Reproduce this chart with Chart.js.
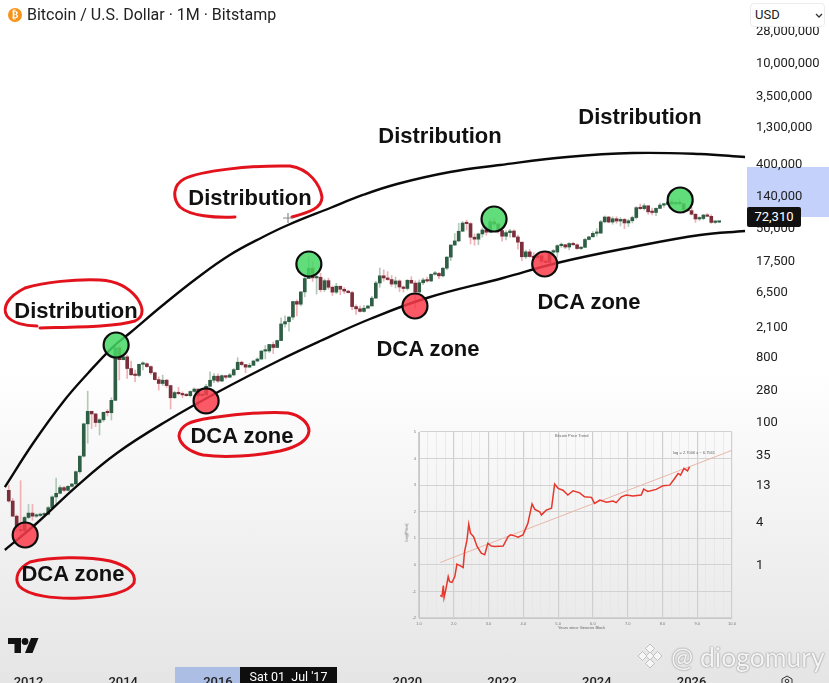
<!DOCTYPE html>
<html><head><meta charset="utf-8"><title>BTC</title>
<script src="https://cdn.jsdelivr.net/npm/chart.js@4/dist/chart.umd.min.js"></script>
<style>
html,body{margin:0;padding:0;width:829px;height:683px;overflow:hidden}
body{position:relative;background:linear-gradient(#fff 0,#fff 54%,#e5e5e5 100%);font-family:Roboto,sans-serif;color:#1c1c1c}
.abs{position:absolute}
#mainWrap{position:absolute;left:0;top:0;width:829px;height:700px}
#insetWrap{position:absolute;left:405px;top:425px;width:340px;height:207px;filter:blur(.6px)}
.note{position:absolute;transform:translate(-50%,-50%);font:bold 22px "Liberation Sans",sans-serif;color:#111;white-space:nowrap}
.tiny{position:absolute;font:4px "Liberation Sans",sans-serif;color:#666;white-space:nowrap;filter:blur(.3px)}
</style></head><body>
<div class="abs" style="left:747px;top:167px;width:82px;height:50px;background:#c3d1fb"></div>
<div class="abs" style="left:175px;top:667px;width:65px;height:16px;background:#adbee5"></div>
<div id="mainWrap"><canvas id="main" width="829" height="700"></canvas></div>
<div id="insetWrap"><canvas id="inset" width="340" height="207"></canvas></div>
<div class="tiny" style="left:555px;top:433px">Bitcoin Price Trend</div>
<div class="tiny" style="left:673px;top:450px">log = 2.7006 x − 6.7561</div>
<div class="tiny" style="left:558px;top:625px">Years since Genesis Block</div>
<div class="tiny" style="left:397px;top:530px;transform:rotate(-90deg)">Log(Price)</div>

<svg class="abs" style="left:0;top:0" width="829" height="683" fill="none">
 <g stroke="#e2131c" stroke-width="3" stroke-linecap="round">
  <path d="M37,326 C25,326 12,323 7,316 C2,308 7,297 25,288 C45,282 75,279 100,280 C118,281 130,289 137,298 C144,308 144,317 135,321 C115,327 75,327 40,328"/>
  <path d="M235,217 C215,218 190,216 180,207 C172,198 173,185 184,179 C200,171 250,165 290,166 C310,169 320,185 322,197 C322,208 310,212 292,217"/>
  <path d="M203,455 C190,452 180,445 179,436 C180,425 190,421 210,418 C240,414 270,411 288,413 C300,415 309,423 309,431 C308,441 297,447 280,451 C255,456 225,458 203,455"/>
  <path d="M30,562 C18,568 14,578 19,586 C28,596 55,599 80,598 C105,597 128,593 134,583 C137,572 125,565 110,561 C85,556 50,557 30,562"/>
 </g>
 <path d="M283,218h10M288,213v10" stroke="#8a8a8a" stroke-width="1.2"/>
 <g fill="#111"><path d="M8,638h13v15h-6.5v-9H8z"/><circle cx="25" cy="641.5" r="3.4"/><path d="M38.5,638l-6,15h-7.5l6,-15z"/></g>
 <g fill="#f6f6f6" stroke="#b5b5b5" stroke-width=".8">
  <path d="M650,644l4.5,4.5l-4.5,4.5l-4.5,-4.5z"/>
  <path d="M650,659l4.5,4.5l-4.5,4.5l-4.5,-4.5z"/>
  <path d="M642.5,651.5l4.5,4.5l-4.5,4.5l-4.5,-4.5z"/>
  <path d="M657.5,651.5l4.5,4.5l-4.5,4.5l-4.5,-4.5z"/>
  <path d="M650,652l4,4l-4,4l-4,-4z"/>
 </g>
 <path d="M782,679l5,-3l5,3v6h-10z" stroke="#333" stroke-width="1"/><circle cx="787" cy="681" r="1.8" stroke="#333"/>
</svg>

<div class="note" style="left:440px;top:136px">Distribution</div>
<div class="note" style="left:640px;top:117px">Distribution</div>
<div class="note" style="left:250px;top:198px">Distribution</div>
<div class="note" style="left:76px;top:311px">Distribution</div>
<div class="note" style="left:428px;top:349px">DCA zone</div>
<div class="note" style="left:589px;top:302px">DCA zone</div>
<div class="note" style="left:242px;top:436px">DCA zone</div>
<div class="note" style="left:73px;top:574px">DCA zone</div>

<div class="abs" style="left:8px;top:8px;width:14px;height:14px;border-radius:50%;background:#f7931a;color:#fff;font:bold 10px/14px 'DejaVu Sans';text-align:center">₿</div>
<div class="abs" style="left:27px;top:5px;font:16px/20px Roboto;white-space:nowrap;color:#222">Bitcoin / U.S. Dollar · 1M · Bitstamp</div>
<div class="abs" style="left:750px;top:3px;width:75px;height:24px;background:#fff;border:1px solid #ececec;border-radius:4px;box-sizing:border-box;font:13px/22px Roboto;padding-left:4px;color:#222">USD
 <svg class="abs" style="left:64px;top:9px" width="8" height="6" fill="none"><path d="M1,1l3,3l3,-3" stroke="#333" stroke-width="1.3"/></svg></div>
<div class="abs" style="left:747px;top:207px;width:54px;height:20px;background:#111;border-radius:2px;color:#fff;font:13px/20px Roboto;text-align:center">72,310</div>
<div class="abs" style="left:240px;top:667px;width:97px;height:16px;background:#0e0e0e;color:#fff;font:12.5px/20px Roboto;text-align:center;white-space:pre">Sat 01  Jul '17</div>
<div class="abs" style="left:671px;top:640px;font:26.5px/34px Lato,'Open Sans',sans-serif;color:#f4f4f4;text-shadow:0 0 2px #8f8f8f,0 0 1px #8f8f8f;white-space:nowrap">@ diogomury</div>

<script>
/* ---------- main chart: monthly BTC candles ---------- */
const months = [
 "2011-08","2011-09","2011-10","2011-11","2011-12",
 "2012-01","2012-02","2012-03","2012-04","2012-05","2012-06","2012-07","2012-08","2012-09","2012-10","2012-11","2012-12",
 "2013-01","2013-02","2013-03","2013-04","2013-05","2013-06","2013-07","2013-08","2013-09","2013-10","2013-11","2013-12",
 "2014-01","2014-02","2014-03","2014-04","2014-05","2014-06","2014-07","2014-08","2014-09","2014-10","2014-11","2014-12",
 "2015-01","2015-02","2015-03","2015-04","2015-05","2015-06","2015-07","2015-08","2015-09","2015-10","2015-11","2015-12",
 "2016-01","2016-02","2016-03","2016-04","2016-05","2016-06","2016-07","2016-08","2016-09","2016-10","2016-11","2016-12",
 "2017-01","2017-02","2017-03","2017-04","2017-05","2017-06","2017-07","2017-08","2017-09","2017-10","2017-11","2017-12",
 "2018-01","2018-02","2018-03","2018-04","2018-05","2018-06","2018-07","2018-08","2018-09","2018-10","2018-11","2018-12",
 "2019-01","2019-02","2019-03","2019-04","2019-05","2019-06","2019-07","2019-08","2019-09","2019-10","2019-11","2019-12",
 "2020-01","2020-02","2020-03","2020-04","2020-05","2020-06","2020-07","2020-08","2020-09","2020-10","2020-11","2020-12",
 "2021-01","2021-02","2021-03","2021-04","2021-05","2021-06","2021-07","2021-08","2021-09","2021-10","2021-11","2021-12",
 "2022-01","2022-02","2022-03","2022-04","2022-05","2022-06","2022-07","2022-08","2022-09","2022-10","2022-11","2022-12",
 "2023-01","2023-02","2023-03","2023-04","2023-05","2023-06","2023-07","2023-08","2023-09","2023-10","2023-11","2023-12",
 "2024-01","2024-02","2024-03","2024-04","2024-05","2024-06","2024-07","2024-08","2024-09","2024-10","2024-11","2024-12",
 "2025-01","2025-02","2025-03","2025-04","2025-05","2025-06","2025-07","2025-08","2025-09","2025-10","2025-11","2025-12",
 "2026-01","2026-02","2026-03","2026-04","2026-05","2026-06","2026-07","2026-08"];
const opens = [
 11,7.8,4.8,3.1,3.0,
 4.6,5.3,4.8,4.9,5.0,5.1,6.3,8.9,10,12,11,12.5,
 13.5,20,33,93,139,128,97,106,135,133,198,1070,
 730,800,550,450,440,630,640,585,480,385,340,378,
 318,215,254,245,236,230,263,284,230,236,311,377,
 430,368,437,416,448,530,673,624,575,609,700,745,
 963,966,1190,1080,1350,2300,2480,2870,4730,4340,6440,9900,
 13800,10100,10300,6925,9240,7480,6390,7730,7010,6610,6300,4020,
 3740,3440,3820,4100,5270,8570,10800,10080,9580,8290,9150,7540,
 7190,9350,8540,6410,8640,9450,9140,11350,11650,10780,13800,19700,
 28990,33110,45200,58800,57700,37300,35040,41460,47100,43800,61300,57000,
 46200,38500,43200,45500,37600,31800,19900,23300,20050,19400,20490,17150,
 16540,23130,23140,28470,29250,27200,30470,29230,25930,26970,34650,37720,
 42260,42580,61130,71300,60640,67500,62700,66100,58950,63300,70200,96400,
 93400,102400,84300,82500,94200,104600,107100,115700,108200,114000,109500,90400,
 87500,78000,67000,68000,76000,73000,60000,60500];
const highs = [
 13,8.5,5,15,4.8,
 7,7,5.2,5.3,5.4,6.6,9.2,16.3,12.8,12.5,12.8,13.7,
 20.5,33,95,266,140,130,110,135,148,215,1165,1165,
 1000,850,700,525,635,680,660,600,490,420,445,390,
 322,265,300,260,247,268,295,285,245,330,495,469,
 465,448,440,470,555,780,700,630,650,720,775,980,
 1150,1200,1290,1370,2790,2990,2920,4740,4980,6470,11400,19660,
 17170,11780,11700,9760,10020,7760,8480,7750,7400,6790,6560,4250,
 4075,4200,4140,5600,9070,13880,13100,12320,10920,10350,9510,7750,
 9570,10500,9190,9460,10070,10380,11440,12470,12070,14100,19850,29300,
 41950,58300,61800,64900,59500,41300,42600,50500,52900,67000,69000,59100,
 47950,45800,48200,47400,40000,31900,24650,25200,22800,21000,21450,18400,
 23900,25200,29200,31000,29800,31400,31800,30200,27500,35900,38400,44700,
 49000,64000,73800,72800,72000,71900,70000,68300,66500,73600,99800,108300,
 109300,102500,95000,95500,112000,110400,123200,124500,117900,126200,110600,94500,
 97000,79500,72000,78000,80000,77000,64000,61500];
const lows = [
 7.5,4.7,2.9,2.5,2.9,
 4.4,4.2,4.6,4.7,4.9,5,6.2,7.2,9.8,10.5,10.8,12.3,
 13,19,32,50,80,85,65,100,120,105,195,380,
 725,400,440,360,420,525,570,455,380,275,320,300,
 150,210,235,215,225,220,255,162,225,235,305,350,
 352,361,393,412,435,528,605,480,570,605,680,740,
 750,920,890,1075,1345,2080,1830,2670,2970,4100,5500,10400,
 9000,6000,6430,6520,7030,5750,6070,5880,6100,6200,3650,3120,
 3350,3370,3780,4100,5260,7450,9100,9320,7700,7300,6510,6410,
 6850,8400,3850,6150,8100,8820,8970,11000,9880,10380,13200,17600,
 28700,32300,45000,47000,30000,28800,29300,37300,39600,43300,53500,42300,
 32950,34300,37200,37400,25400,17600,18800,19600,18150,18200,15500,16300,
 16500,21400,19600,26900,25800,24800,28900,25300,24900,26550,34100,37600,
 38500,41900,59100,59200,56500,58400,53500,49100,52600,58900,66800,90700,
 89200,78200,76600,74500,93300,98200,105100,107300,107300,103500,80600,84400,
 76000,60000,64000,65000,72000,58000,58000,59500];
const closes = [
 7.8,4.8,3.4,3.0,4.6,
 5.3,4.8,4.9,5,5.1,6.3,8.9,10,12,11,12.5,13.5,
 20,33,93,139,128,97,106,135,133,198,1070,730,
 800,550,450,440,630,640,585,480,385,340,378,318,
 215,254,245,236,230,263,284,230,236,311,377,430,
 368,437,416,448,530,673,624,575,609,700,745,963,
 966,1190,1080,1350,2300,2480,2870,4730,4340,6440,9900,13800,
 10100,10300,6925,9240,7480,6390,7730,7010,6610,6300,4020,3740,
 3440,3820,4100,5270,8570,10800,10080,9580,8290,9150,7540,7190,
 9350,8540,6410,8640,9450,9140,11350,11650,10780,13800,19700,28990,
 33110,45200,58800,57700,37300,35040,41460,47100,43800,61300,57000,46200,
 38500,43200,45500,37600,31800,19900,23300,20050,19400,20490,17150,16540,
 23130,23140,28470,29250,27200,30470,29230,25930,26970,34650,37720,42260,
 42580,61130,71300,60640,67500,62700,66100,58950,63300,70200,96400,93400,
 102400,84300,82500,94200,104600,107100,115700,108200,114000,109500,90400,87500,
 78000,67000,68000,76000,73000,60000,60500,61000];

const upperYears  = [2011.50,2012.10,2012.73,2013.26,2013.78,2014.14,2014.84,2015.56,2016.25,2016.95,2017.48,2018.37,2019.06,2019.78,2020.90,2021.96,2023.37,2024.76,2026.18,2027.13];
const upperPrices = [12.2,50.3,188,476,1097,1721,4229,10070,21070,37560,55200,95300,144700,206000,302800,379100,490000,557000,539700,490000];
const lowerYears  = [2011.50,2012.18,2013.02,2013.87,2014.92,2016.04,2017.31,2018.16,2019.21,2020.41,2022.02,2023.16,2024.76,2026.18,2027.13];
const lowerPrices = [1.62,3.85,12.6,36.5,102,267,723,1331,2698,5296,10070,16290,27230,40060,45500];

const topYears  = [2013.85,2017.92,2021.83,2025.76];
const topPrices = [1170,15780,66900,123300];
const dcaYears  = [2011.93,2015.75,2020.16,2022.90];
const dcaPrices = [2.62,194,4094,15780];

const priceTicks = [28000000,10000000,3500000,1300000,400000,140000,50000,17500,6500,2100,800,280,100,35,13,4,1];
const yearTicks  = [2012,2014,2016,2018,2020,2022,2024,2026];

const zip = (xs,ys)=>xs.map((x,i)=>({x,y:ys[i]}));
const monthX = months.map(s=>{const [y,m]=s.split('-').map(Number);return y+(m-1)/12;});
const up = i => closes[i]>=opens[i];

new Chart(document.getElementById('main'),{
 type:'bar',
 data:{datasets:[
  {type:'line',label:'Top marks',data:zip(topYears,topPrices),showLine:false,order:0,clip:false,
   pointRadius:12.5,pointHoverRadius:12.5,pointBackgroundColor:'rgba(70,215,100,.85)',pointBorderColor:'#0c0c0c',pointBorderWidth:2.2},
  {type:'line',label:'DCA marks',data:zip(dcaYears,dcaPrices),showLine:false,order:0,clip:false,
   pointRadius:12.5,pointHoverRadius:12.5,pointBackgroundColor:'rgba(250,60,75,.85)',pointBorderColor:'#0c0c0c',pointBorderWidth:2.2},
  {type:'line',label:'Upper curve',data:zip(upperYears,upperPrices),tension:.4,borderColor:'#0a0a0a',borderWidth:2.4,pointRadius:0,order:1},
  {type:'line',label:'Lower curve',data:zip(lowerYears,lowerPrices),tension:.4,borderColor:'#0a0a0a',borderWidth:2.4,pointRadius:0,order:1},
  {label:'Body',data:monthX.map((x,i)=>({x,y:[opens[i],closes[i]]})),grouped:false,order:2,barThickness:3,minBarLength:1.4,borderWidth:0,
   backgroundColor:c=>up(c.dataIndex)?'#2e5f45':'#7a2f3b'},
  {label:'Wick',data:monthX.map((x,i)=>({x,y:[lows[i],highs[i]]})),grouped:false,order:3,barThickness:1,borderWidth:0,
   backgroundColor:c=>up(c.dataIndex)?'#b4c9b9':'#efb0b6'}
 ]},
 options:{
  responsive:false,animation:false,
  layout:{autoPadding:false,padding:{top:24,left:0,right:0,bottom:0}},
  plugins:{legend:{display:false},tooltip:{enabled:false}},
  events:[],
  scales:{
   x:{type:'linear',offset:false,min:2011.398,max:2027.15,grid:{display:false,drawTicks:false},border:{display:false},
      afterFit(s){s.height=35;s.paddingLeft=0;s.paddingRight=0;},
      afterBuildTicks(s){s.ticks=yearTicks.map(v=>({value:v}));},
      ticks:{autoSkip:false,maxRotation:0,padding:10,color:'#222',font:{family:'Roboto',size:13,weight:'500'},callback:v=>String(v)}},
   y:{type:'logarithmic',position:'right',bounds:'data',min:0.0403,max:35100000,grid:{display:false,drawTicks:false},border:{display:false},
      afterFit(s){s.width=83;s.paddingTop=0;s.paddingBottom=0;},
      afterBuildTicks(s){s.ticks=priceTicks.map(v=>({value:v}));},
      ticks:{autoSkip:false,padding:10,labelOffset:1,color:'#222',font:{family:'Roboto',size:13},callback:v=>Number(v).toLocaleString('en-US')}}
  }
 }
});

/* ---------- inset chart: log price against years ---------- */
const insetX = [1.61,1.66,1.70,1.72,1.77,1.84,1.88,1.95,2.03,2.09,2.19,2.27,2.31,2.38,2.43,2.48,2.57,2.67,2.79,2.89,2.98,3.08,3.18,3.42,3.56,3.63,3.75,3.85,3.99,4.13,4.25,4.33,4.47,4.52,4.66,4.81,4.90,5.00,5.14,5.28,5.43,5.62,5.76,5.96,6.05,6.20,6.39,6.58,6.67,6.82,6.96,7.15,7.39,7.46,7.58,7.82,8.02,8.21,8.35,8.45,8.52,8.62,8.72,8.78];
const insetY = [-1.15,-1.19,-0.78,-1.23,-0.94,-0.44,-0.63,-0.66,-0.44,0.03,-0.04,-0.10,0.50,0.94,1.53,1.19,1.06,0.69,0.44,0.38,0.81,0.71,0.69,0.71,1.06,1.13,1.09,1.04,1.13,1.56,2.29,2.09,2.0,1.88,2.06,2.13,3.04,2.88,2.81,2.63,2.79,2.71,2.56,2.54,2.31,2.44,2.36,2.40,2.34,2.56,2.63,2.59,2.63,2.85,2.76,2.84,2.98,3.0,3.25,3.44,3.38,3.63,3.54,3.69];
const trendX = [1.61,10];
const trendY = [0.09,4.31];
const insetMajorX = [1,2,3,4,5,6,7,8,9,10];
const insetMinorX = [1.25,1.5,1.75,2.25,2.5,2.75,3.25,3.5,3.75,4.25,4.5,4.75,5.25,5.5,5.75,6.25,6.5,6.75,7.25,7.5,7.75,8.25,8.5,8.75,9.25,9.5,9.75];
const insetTicksY = [-2,-1,0,1,2,3,4,5];

new Chart(document.getElementById('inset'),{
 type:'line',
 data:{datasets:[
  {data:zip(insetX,insetY),borderColor:'#e5372b',borderWidth:1.5,pointRadius:0,tension:0,order:0},
  {data:zip(trendX,trendY),borderColor:'#e9b6a8',borderWidth:1,pointRadius:0,tension:0,order:1}
 ]},
 options:{
  responsive:false,animation:false,events:[],
  layout:{autoPadding:false,padding:{top:7,right:13,left:0,bottom:0}},
  plugins:{legend:{display:false},tooltip:{enabled:false}},
  scales:{
   x:{type:'linear',min:1,max:10,border:{color:'#c8c8c8'},
      grid:{drawTicks:false,color:c=>Number.isInteger(c.tick.value)?'#cfcfcf':'#e6e6e6',lineWidth:c=>Number.isInteger(c.tick.value)?1.2:.8},
      afterFit(s){s.height=14;s.paddingLeft=0;s.paddingRight=0;},
      afterBuildTicks(s){s.ticks=[...insetMajorX,...insetMinorX].sort((a,b)=>a-b).map(v=>({value:v}));},
      ticks:{autoSkip:false,maxRotation:0,padding:3,color:'#777',font:{size:4},callback:v=>Number.isInteger(v)?v.toFixed(1):''}},
   y:{type:'linear',min:-2,max:5,border:{color:'#c8c8c8'},
      grid:{drawTicks:false,color:'#d2d2d2',lineWidth:1.1},
      afterFit(s){s.width=14;s.paddingTop=0;s.paddingBottom=0;},
      afterBuildTicks(s){s.ticks=insetTicksY.map(v=>({value:v}));},
      ticks:{autoSkip:false,padding:3,color:'#777',font:{size:4},callback:v=>String(v)}}
  }
 }
});
</script>
</body></html>
